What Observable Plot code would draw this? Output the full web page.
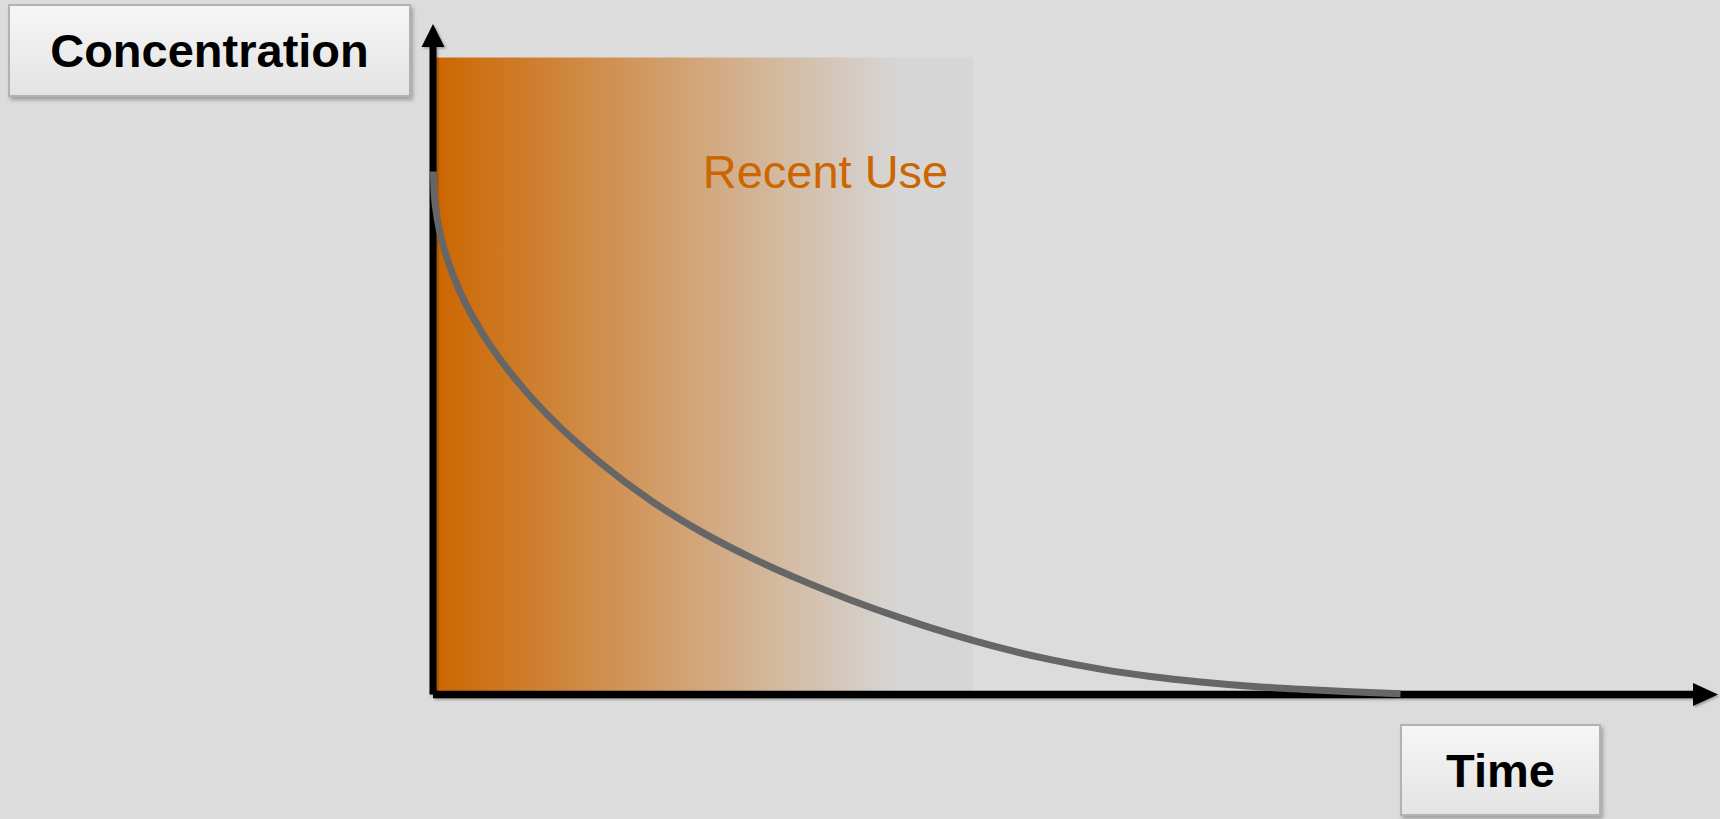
<!DOCTYPE html>
<html>
<head>
<meta charset="utf-8">
<script src="https://cdn.jsdelivr.net/npm/d3@7"></script>
<script src="https://cdn.jsdelivr.net/npm/@observablehq/plot@0.6"></script>
<style>
  html, body { margin: 0; padding: 0; background: #DCDCDC; }
  #wrap { position: relative; width: 1720px; height: 819px; overflow: hidden; }
  #wrap svg { position: absolute; left: 0; top: 0; }
  .box {
    position: absolute; box-sizing: border-box;
    border: 2px solid #B2B2B2;
    background: linear-gradient(#F6F6F6, #E3E3E3);
    box-shadow: 2px 3px 4px rgba(0,0,0,0.28);
    display: flex; align-items: center; justify-content: center;
    font: bold 47px "Liberation Sans", Arial, sans-serif; color: #000;
  }
</style>
</head>
<body>
<div id="wrap"></div>
<script>
// ---- data ----
const time = [0, 0.0056, 0.025, 0.057, 0.106, 0.169, 0.259, 0.435, 0.602, 0.852, 1.084, 1.547, 2.01, 2.473,
  2.936, 3.399, 3.862, 4.325, 4.788, 5.251, 5.714, 6.177, 6.64, 7.103, 7.566, 8.029, 8.492, 8.955];
const concentration = [78.08, 75.09, 72.11, 69.13, 66.14, 63.16, 59.66, 54.41, 50.38, 45.35, 41.33, 34.62, 29.02, 24.4,
  20.52, 17.17, 14.18, 11.5, 9.11, 7.02, 5.27, 3.86, 2.77, 1.95, 1.32, 0.86, 0.48, 0.19];
const recentStart = [0];
const recentEnd = [5];
const recentTop = [95];
const timeAxisMax = 11.9;
const concAxisMax = 100;
const annotationText = ["Recent Use"];
const annotationTime = [3.63];
const annotationConc = [77.9];
const yAxisTitle = "Concentration";
const xAxisTitle = "Time";

const curveData = time.map((t, i) => ({t, c: concentration[i]}));
const recentData = recentStart.map((s, i) => ({s, e: recentEnd[i], top: recentTop[i]}));
const annotationData = annotationText.map((label, i) => ({label, t: annotationTime[i], c: annotationConc[i]}));

const axesMark = (index, scales) => {
  const x = scales.x, y = scales.y;
  const g = d3.create("svg:g").attr("filter", "url(#axisShadow)");
  const x0 = x(0), y0 = y(0), xTip = x(timeAxisMax), yTip = y(concAxisMax);
  g.append("line").attr("x1", x0).attr("x2", x0).attr("y1", y0).attr("y2", yTip + 22)
    .attr("stroke", "#000").attr("stroke-width", 7);
  g.append("line").attr("x1", x0).attr("x2", xTip - 24).attr("y1", y0).attr("y2", y0)
    .attr("stroke", "#000").attr("stroke-width", 7.5);
  g.append("path").attr("d", `M${x0},${yTip}L${x0 - 11.5},${yTip + 23}L${x0 + 11.5},${yTip + 23}Z`).attr("fill", "#000");
  g.append("path").attr("d", `M${xTip},${y0}L${xTip - 25},${y0 - 11.5}L${xTip - 25},${y0 + 11.5}Z`).attr("fill", "#000");
  return g.node();
};

const chart = Plot.plot({
  width: 1720,
  height: 819,
  marginTop: 24,
  marginBottom: 124.5,
  marginLeft: 433,
  marginRight: 2,
  style: {background: "transparent", fontFamily: "'Liberation Sans', Arial, sans-serif", overflow: "visible"},
  x: {domain: [0, timeAxisMax], axis: null},
  y: {domain: [0, concAxisMax], axis: null},
  marks: [
    Plot.rect(recentData, {x1: "s", x2: "e", y1: 0, y2: "top", fill: "#D6D6D6"}),
    axesMark,
    Plot.text(annotationData, {x: "t", y: "c", text: "label", fontSize: 47, fill: "#CC6600",
      textAnchor: "middle", lineAnchor: "middle"}),
    Plot.line(curveData, {x: "t", y: "c", stroke: "#666666", strokeWidth: 7,
      curve: "monotone-x", strokeLinecap: "butt"})
  ]
});

const svg = d3.select(chart);
const defs = svg.insert("defs", ":first-child");
const grad = defs.append("linearGradient").attr("id", "recentGrad")
  .attr("x1", "0").attr("x2", "1").attr("y1", "0").attr("y2", "0");
grad.append("stop").attr("offset", "0%").attr("stop-color", "#CC6600");
grad.append("stop").attr("offset", "86%").attr("stop-color", "#D6D6D6");
grad.append("stop").attr("offset", "100%").attr("stop-color", "#D6D6D6");
const filt = defs.append("filter").attr("id", "axisShadow").attr("x", "-5%").attr("y", "-5%").attr("width", "110%").attr("height", "110%");
filt.append("feDropShadow").attr("dx", 1.5).attr("dy", 1.5).attr("stdDeviation", 1)
  .attr("flood-color", "#000").attr("flood-opacity", 0.3);
svg.selectAll("g[aria-label='rect'] rect").attr("fill", "url(#recentGrad)");

const wrap = document.getElementById("wrap");
wrap.appendChild(chart);

const yBox = document.createElement("div");
yBox.className = "box";
Object.assign(yBox.style, {left: "8px", top: "4px", width: "403px", height: "93px"});
yBox.textContent = yAxisTitle;
wrap.appendChild(yBox);

const xBox = document.createElement("div");
xBox.className = "box";
Object.assign(xBox.style, {left: "1400px", top: "724px", width: "201px", height: "92px"});
xBox.textContent = xAxisTitle;
wrap.appendChild(xBox);
</script>
</body>
</html>
